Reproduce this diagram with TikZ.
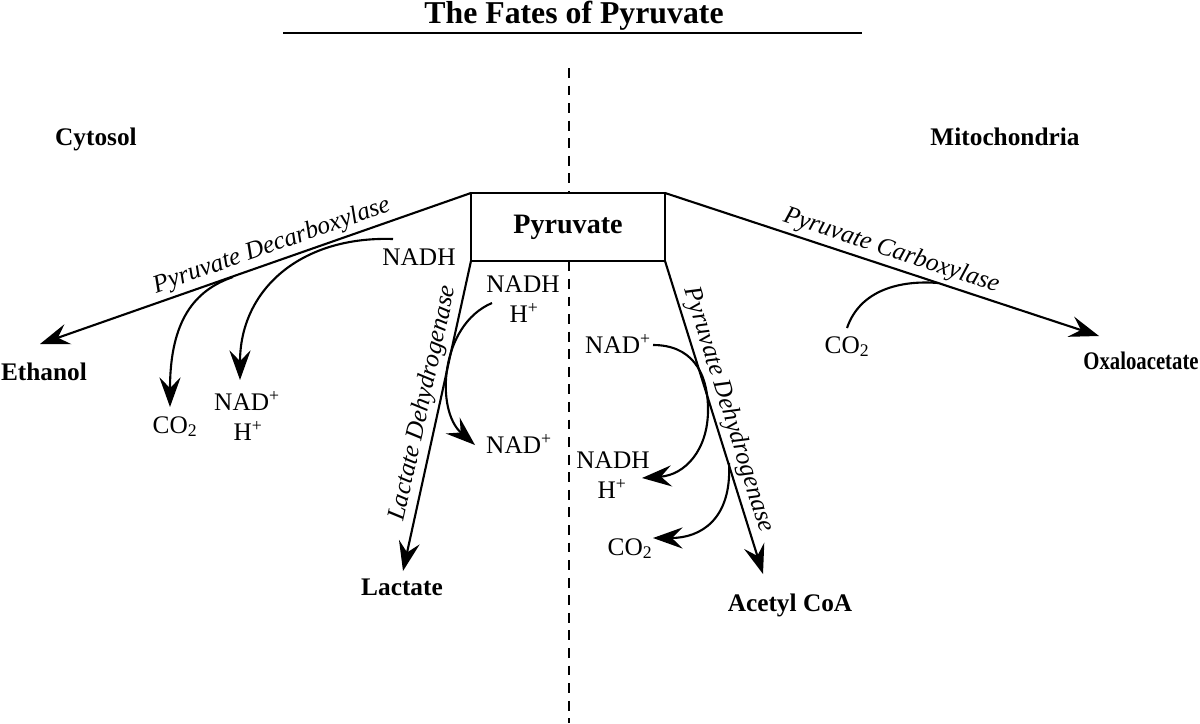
\documentclass[tikz,border=0pt]{standalone}
\usepackage{fontspec}
\setmainfont{Liberation Serif}
\usetikzlibrary{arrows.meta}
\begin{document}
\begin{tikzpicture}[x=0.025cm,y=-0.025cm,
  every node/.style={inner sep=0pt, outer sep=0pt},
  lbl/.style={font=\fontsize{18}{20}\selectfont, anchor=base},
  blbl/.style={font=\fontsize{18}{20}\selectfont\bfseries, anchor=base},
  enz/.style={font=\fontsize{18}{20}\selectfont\itshape, sloped, above, inner sep=3pt},
  ln/.style={line width=1.5pt},
  arr/.style={ln, -{Stealth[length=21pt,width=15pt,inset=7.5pt]}},
]
\useasboundingbox (0,0) rectangle (1200,723);

% title
\node[font=\fontsize{22.6}{26}\selectfont\bfseries, anchor=base] (title) at (574,23) {The Fates of Pyruvate};
\coordinate (ulL) at (283,33);
\coordinate (ulR) at (862,33);
\draw[line width=1.6pt] (ulL) -- (ulR);

% divider
\coordinate (dTop) at (569,68);
\coordinate (dBot) at (569,723);
\draw[line width=1.6pt, dash pattern=on 7pt off 5.5pt] (dTop) -- (dBot);

% compartments
\node[blbl] (cyt) at (96,145) {Cytosol};
\node[blbl] (mit) at (1005,145) {Mitochondria};

% central box
\node[draw, fill=white, line width=1.5pt, minimum width=4.85cm, minimum height=1.7cm,
      font=\fontsize{20}{22}\selectfont\bfseries] (pyr) at (568,227) {Pyruvate};

% products
\node[blbl] (eth) at (44,380) {Ethanol};
\node[blbl] (lac) at (402,595) {Lactate};
\node[blbl] (ace) at (790,611) {Acetyl CoA};
\node[blbl, xscale=0.82] (oxa) at (1141,369) {Oxaloacetate};

\coordinate (tEth) at (40,344);
\coordinate (tLac) at (403,571);
\coordinate (tAce) at (763,574);
\coordinate (tOxa) at (1099,336);

\draw[arr] (pyr.north west) -- node[enz, pos=0.45] (enzPDC) {Pyruvate Decarboxylase} (tEth);
\draw[arr] (pyr.south west) -- node[enz, pos=0.47] (enzLDH) {Lactate Dehydrogenase} (tLac);
\draw[arr] (pyr.south east) -- node[enz, pos=0.49] (enzPDH) {Pyruvate Dehydrogenase} (tAce);
\draw[arr] (pyr.north east) -- node[enz, pos=0.51] (enzPC) {Pyruvate Carboxylase} (tOxa);

% cofactor labels
\node[lbl] (nadh1) at (419,265) {NADH};
\node[lbl] (co2a) at (175,433) {CO\textsubscript{2}};
\node[lbl] (nad1) at (247,410) {NAD\textsuperscript{+}};
\node[lbl] (h1) at (248,440) {H\textsuperscript{+}};

\node[lbl] (nadh2) at (523,292) {NADH};
\node[lbl] (h2) at (524,322) {H\textsuperscript{+}};
\node[lbl] (nad2) at (519,453) {NAD\textsuperscript{+}};

\node[lbl] (nad3) at (618,353) {NAD\textsuperscript{+}};
\node[lbl] (nadh3) at (613,468) {NADH};
\node[lbl] (h3) at (612,498) {H\textsuperscript{+}};
\node[lbl] (co2b) at (630,555) {CO\textsubscript{2}};

\node[lbl] (co2c) at (847,353) {CO\textsubscript{2}};

% side-reaction curves
\coordinate (c1s) at (393,239);
\coordinate (c1e) at (240,380);
\draw[arr] (c1s) .. controls (300,236) and (240,290) .. (c1e);

\coordinate (c2s) at (233,277);
\coordinate (c2e) at (170,407);
\draw[arr] (c2s) .. controls (195,290) and (170,320) .. (c2e);

\coordinate (c3s) at (492,303);
\coordinate (c3e) at (475,445);
\draw[arr] (c3s) .. controls (440,325) and (435,410) .. (c3e);

\coordinate (c4s) at (653,345);
\coordinate (c4m) at (708,410);
\coordinate (c4e) at (642,478);
\draw[arr] (c4s) .. controls (690,345) and (708,370) .. (c4m) .. controls (708,450) and (685,475) .. (c4e);

\coordinate (c5s) at (729,463);
\coordinate (c5e) at (653,538);
\draw[arr] (c5s) .. controls (732,520) and (700,538) .. (c5e);

\coordinate (c6s) at (847,328);
\coordinate (c6e) at (938,283);
\draw[ln] (c6s) .. controls (860,290) and (900,280) .. (c6e);
\end{tikzpicture}
\end{document}
